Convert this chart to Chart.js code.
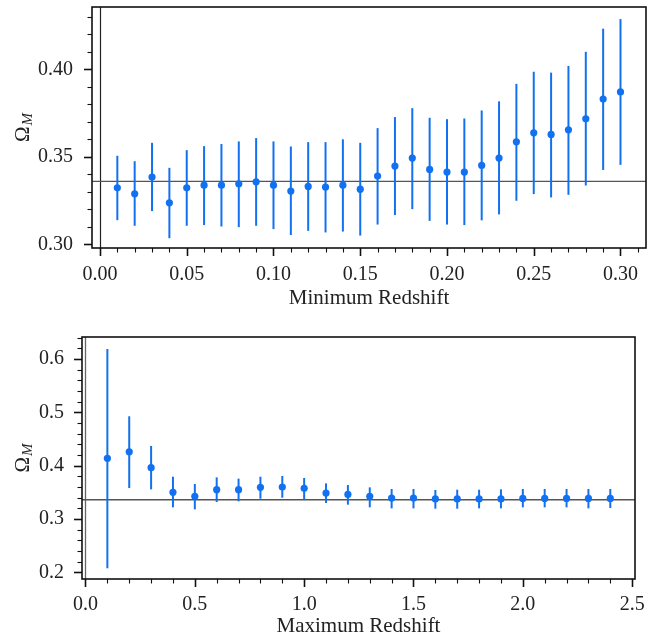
<!DOCTYPE html>
<html>
<head>
<meta charset="utf-8">
<script src="https://cdn.jsdelivr.net/npm/chart.js@4.4.1/dist/chart.umd.min.js"></script>
<style>
  html, body { margin: 0; padding: 0; background: #fff; }
  #wrap { position: relative; width: 655px; height: 634px; }
  canvas { position: absolute; left: 0; }
  #top-chart { top: 0; }
  #bottom-chart { top: 317px; }
</style>
</head>
<body>
<div id="wrap">
  <canvas id="top-chart" width="655" height="317"></canvas>
  <canvas id="bottom-chart" width="655" height="317"></canvas>
</div>
<script>
// Top panel: minimum redshift cut
const minZ = [0.01, 0.02, 0.03, 0.04, 0.05, 0.06, 0.07, 0.08, 0.09, 0.10,
              0.11, 0.12, 0.13, 0.14, 0.15, 0.16, 0.17, 0.18, 0.19, 0.20,
              0.21, 0.22, 0.23, 0.24, 0.25, 0.26, 0.27, 0.28, 0.29, 0.30];
const minOmega = [0.3323, 0.3289, 0.3384, 0.3237, 0.3323, 0.3338, 0.3338, 0.3346, 0.3357, 0.3338,
                  0.3304, 0.3331, 0.3327, 0.3338, 0.3315, 0.3390, 0.3447, 0.3493, 0.3428, 0.3413,
                  0.3413, 0.3451, 0.3493, 0.3586, 0.3637, 0.3628, 0.3654, 0.3717, 0.3830, 0.3871];
const minHigh = [0.3506, 0.3475, 0.3580, 0.3437, 0.3538, 0.3561, 0.3573, 0.3588, 0.3607, 0.3588,
                 0.3559, 0.3584, 0.3584, 0.3600, 0.3580, 0.3664, 0.3727, 0.3778, 0.3723, 0.3715,
                 0.3719, 0.3765, 0.3817, 0.3917, 0.3986, 0.3981, 0.4019, 0.4100, 0.4232, 0.4287];
const minLow = [0.3138, 0.3106, 0.3190, 0.3035, 0.3106, 0.3110, 0.3102, 0.3098, 0.3106, 0.3087,
                0.3053, 0.3077, 0.3068, 0.3073, 0.3050, 0.3113, 0.3167, 0.3201, 0.3134, 0.3113,
                0.3110, 0.3137, 0.3171, 0.3249, 0.3287, 0.3268, 0.3283, 0.3336, 0.3425, 0.3454];

// Bottom panel: maximum redshift cut
const maxZ = [0.1, 0.2, 0.3, 0.4, 0.5, 0.6, 0.7, 0.8, 0.9, 1.0, 1.1, 1.2,
              1.3, 1.4, 1.5, 1.6, 1.7, 1.8, 1.9, 2.0, 2.1, 2.2, 2.3, 2.4];
const maxOmega = [0.4137, 0.4260, 0.3962, 0.3499, 0.3424, 0.3550, 0.3550, 0.3593, 0.3600, 0.3574, 0.3487, 0.3461,
                  0.3424, 0.3393, 0.3393, 0.3375, 0.3375, 0.3375, 0.3375, 0.3386, 0.3386, 0.3386, 0.3386, 0.3386];
const maxHigh = [0.6188, 0.4926, 0.4370, 0.3793, 0.3656, 0.3780, 0.3756, 0.3793, 0.3806, 0.3769, 0.3668, 0.3637,
                 0.3593, 0.3562, 0.3562, 0.3543, 0.3549, 0.3549, 0.3556, 0.3562, 0.3562, 0.3562, 0.3562, 0.3562];
const maxLow = [0.2075, 0.3580, 0.3555, 0.3218, 0.3181, 0.3318, 0.3330, 0.3380, 0.3399, 0.3367, 0.3300, 0.3268,
                0.3218, 0.3199, 0.3199, 0.3193, 0.3193, 0.3199, 0.3199, 0.3218, 0.3218, 0.3218, 0.3199, 0.3205];

// Reference value and ticks
const omegaRef = 0.3360;
const topXMajor = [0.00, 0.05, 0.10, 0.15, 0.20, 0.25, 0.30];
const topYMajor = [0.30, 0.35, 0.40];
const botXMajor = [0.0, 0.5, 1.0, 1.5, 2.0, 2.5];
const botYMajor = [0.2, 0.3, 0.4, 0.5, 0.6];

const BLUE = '#1271f0';
const FONT = "'Liberation Serif', 'DejaVu Serif', serif";

function minorTicks(min, max, step) {
  const out = [];
  const start = Math.ceil(min / step - 1e-9);
  for (let k = start; k * step <= max + 1e-9; k++) out.push(+(k * step).toFixed(6));
  return out;
}

function isMajor(v, majors) {
  return majors.some(m => Math.abs(m - v) < 1e-7);
}

// Frame, ticks, reference lines, error bars and the y label
function panelPlugin(cfg) {
  return {
    id: 'panel',
    beforeDatasetsDraw(chart) {
      const { ctx, chartArea: a, scales: { x, y } } = chart;
      ctx.save();
      ctx.beginPath();
      ctx.rect(a.left, a.top, a.right - a.left, a.bottom - a.top);
      ctx.clip();
      // reference lines
      ctx.strokeStyle = cfg.vColor;
      ctx.lineWidth = cfg.vWidth;
      const x0 = Math.round(x.getPixelForValue(0)) + 0.5;
      ctx.beginPath(); ctx.moveTo(x0, a.top); ctx.lineTo(x0, a.bottom); ctx.stroke();
      ctx.strokeStyle = '#555';
      ctx.lineWidth = 1.3;
      const yr = y.getPixelForValue(omegaRef);
      ctx.beginPath(); ctx.moveTo(a.left, yr); ctx.lineTo(a.right, yr); ctx.stroke();
      // error bars
      ctx.strokeStyle = BLUE;
      ctx.lineWidth = 2;
      cfg.xs.forEach((xv, i) => {
        const px = x.getPixelForValue(xv);
        ctx.beginPath();
        ctx.moveTo(px, y.getPixelForValue(cfg.lo[i]));
        ctx.lineTo(px, y.getPixelForValue(cfg.hi[i]));
        ctx.stroke();
      });
      ctx.restore();
    },
    afterDraw(chart) {
      const { ctx, chartArea: a, scales: { x, y } } = chart;
      ctx.save();
      ctx.strokeStyle = '#111';
      // tick marks (outward)
      x.ticks.forEach(t => {
        const major = isMajor(t.value, cfg.xMajor);
        const px = Math.round(x.getPixelForValue(t.value)) + 0.5;
        ctx.lineWidth = major ? 1.6 : 1.1;
        ctx.beginPath(); ctx.moveTo(px, a.bottom); ctx.lineTo(px, a.bottom + (major ? 8 : 4.5)); ctx.stroke();
      });
      y.ticks.forEach(t => {
        const major = isMajor(t.value, cfg.yMajor);
        const py = Math.round(y.getPixelForValue(t.value)) + 0.5;
        ctx.lineWidth = major ? 1.6 : 1.1;
        ctx.beginPath(); ctx.moveTo(a.left, py); ctx.lineTo(a.left - (major ? 8 : 4.5), py); ctx.stroke();
      });
      // frame
      ctx.lineWidth = 1.6;
      ctx.strokeStyle = '#111';
      ctx.strokeRect(a.left, a.top, a.right - a.left, a.bottom - a.top);
      // y label: Omega with subscript M
      ctx.translate(cfg.labelX, (a.top + a.bottom) / 2);
      ctx.rotate(-Math.PI / 2);
      ctx.fillStyle = '#222';
      ctx.textBaseline = 'middle';
      ctx.font = `21px ${FONT}`;
      const wO = ctx.measureText('Ω').width;
      ctx.font = `italic 15px ${FONT}`;
      const wM = ctx.measureText('M').width;
      const start = -(wO + wM + 1) / 2;
      ctx.font = `21px ${FONT}`;
      ctx.textAlign = 'left';
      ctx.fillText('Ω', start, 0);
      ctx.font = `italic 15px ${FONT}`;
      ctx.fillText('M', start + wO + 1, 5);
      ctx.restore();
    }
  };
}

function makePanel(id, p) {
  const pts = p.xs.map((xv, i) => ({ x: xv, y: p.ys[i] }));
  return new Chart(document.getElementById(id), {
    type: 'scatter',
    data: {
      datasets: [{
        data: pts,
        backgroundColor: BLUE,
        borderWidth: 0,
        pointRadius: 3.6,
        pointHoverRadius: 3.6
      }]
    },
    options: {
      responsive: false,
      animation: false,
      devicePixelRatio: 1,
      layout: { padding: p.padding },
      plugins: { legend: { display: false }, tooltip: { enabled: false } },
      scales: {
        x: {
          type: 'linear',
          min: p.xMin, max: p.xMax,
          grid: { display: false },
          border: { display: false },
          afterFit: s => { s.height = p.xAxisH; s.paddingLeft = 0; s.paddingRight = 0; },
          afterBuildTicks: s => { s.ticks = minorTicks(p.xMin, p.xMax, p.xStep).map(v => ({ value: v })); },
          ticks: {
            padding: p.xPad,
            maxRotation: 0,
            autoSkip: false,
            color: '#222',
            font: { family: FONT, size: 20 },
            callback: v => isMajor(v, p.xMajor) ? v.toFixed(p.xDec) : ''
          },
          title: {
            display: true,
            text: p.xTitle,
            color: '#222',
            font: { family: FONT, size: 21, lineHeight: 1 },
            padding: { top: 0, bottom: p.titlePad }
          }
        },
        y: {
          type: 'linear',
          min: p.yMin, max: p.yMax,
          grid: { display: false },
          border: { display: false },
          afterFit: s => { s.width = p.yAxisW; s.paddingTop = 0; s.paddingBottom = 0; },
          afterBuildTicks: s => { s.ticks = minorTicks(p.yMin, p.yMax, p.yStep).map(v => ({ value: v })); },
          ticks: {
            padding: p.yPad,
            autoSkip: false,
            color: '#222',
            font: { family: FONT, size: 20 },
            callback: v => isMajor(v, p.yMajor) ? v.toFixed(p.yDec) : ''
          }
        }
      }
    },
    plugins: [panelPlugin({
      xs: p.xs, lo: p.lo, hi: p.hi,
      xMajor: p.xMajor, yMajor: p.yMajor,
      labelX: p.labelX, vColor: p.vColor, vWidth: p.vWidth
    })]
  });
}

makePanel('top-chart', {
  xs: minZ, ys: minOmega, lo: minLow, hi: minHigh,
  xMin: -0.0046, xMax: 0.3147, yMin: 0.2979, yMax: 0.4356,
  xStep: 0.01, yStep: 0.01, xMajor: topXMajor, yMajor: topYMajor, xDec: 2, yDec: 2,
  padding: { top: 7, right: 9, left: 0, bottom: 0 },
  xAxisH: 69, yAxisW: 92, xPad: 7, yPad: 11, titlePad: 8,
  xTitle: 'Minimum Redshift', labelX: 23, vColor: '#222', vWidth: 1.2
});

makePanel('bottom-chart', {
  xs: maxZ, ys: maxOmega, lo: maxLow, hi: maxHigh,
  xMin: -0.016, xMax: 2.513, yMin: 0.1874, yMax: 0.6413,
  xStep: 0.1, yStep: 0.02, xMajor: botXMajor, yMajor: botYMajor, xDec: 1, yDec: 1,
  padding: { top: 20, right: 20, left: 0, bottom: 0 },
  xAxisH: 55, yAxisW: 82, xPad: 6, yPad: 10, titlePad: -3,
  xTitle: 'Maximum Redshift', labelX: 23, vColor: '#666', vWidth: 1.3
});
</script>
</body>
</html>
